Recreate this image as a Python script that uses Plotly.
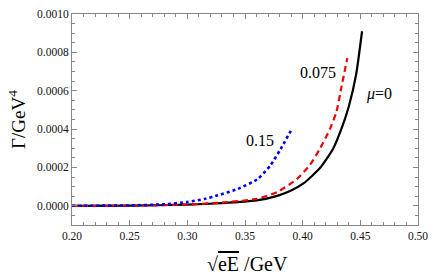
import plotly.graph_objects as go

# mu = 0 (black solid)
x_mu0 = [0.20, 0.25, 0.30, 0.33, 0.36, 0.378, 0.39, 0.401, 0.415, 0.4264, 0.435, 0.440, 0.4464, 0.4515]
y_mu0 = [0, 0.0000005, 0.000006, 0.000014, 0.000028, 0.000052, 0.00008, 0.000118, 0.000197, 0.000298, 0.000425, 0.000518, 0.000686, 0.000910]

# mu = 0.075 (red dashed)
x_mu075 = [0.20, 0.25, 0.30, 0.33, 0.36, 0.378, 0.395, 0.4064, 0.415, 0.4236, 0.4293, 0.4335, 0.4387]
y_mu075 = [0, 0.0000006, 0.000007, 0.000017, 0.000036, 0.000072, 0.000139, 0.000214, 0.000298, 0.0004, 0.000490, 0.000615, 0.00077]

# mu = 0.15 (blue dotted)
x_mu15 = [0.20, 0.25, 0.28, 0.30, 0.315, 0.3266, 0.3437, 0.3608, 0.3722, 0.3808, 0.3897]
y_mu15 = [0, 0.000002, 0.000008, 0.00002, 0.000036, 0.000055, 0.000088, 0.000139, 0.000212, 0.000295, 0.000391]

x_ticks = [0.20, 0.25, 0.30, 0.35, 0.40, 0.45, 0.50]
y_ticks = [0.0, 0.0002, 0.0004, 0.0006, 0.0008, 0.0010]

serif = "Liberation Serif, Times New Roman, serif"

fig = go.Figure()
fig.add_trace(go.Scatter(x=x_mu0, y=y_mu0, mode="lines", line=dict(color="black", width=2.2, shape="spline", smoothing=0.5)))
fig.add_trace(go.Scatter(x=x_mu075, y=y_mu075, mode="lines", line=dict(color="#ee0000", width=2.2, dash="6px,4px", shape="spline", smoothing=0.5)))
fig.add_trace(go.Scatter(x=x_mu15, y=y_mu15, mode="lines", line=dict(color="#0000ee", width=2.6, dash="3px,3px", shape="spline", smoothing=0.5)))

axis_common = dict(showgrid=False, zeroline=False, showline=True, linecolor="#888888", linewidth=1,
                   mirror="allticks", ticks="inside", ticklen=5, tickcolor="#888888",
                   tickfont=dict(family=serif, size=11.5, color="#111111"))

fig.update_xaxes(range=[0.20, 0.50], tickvals=x_ticks, ticktext=[f"{v:.2f}" for v in x_ticks],
                 minor=dict(ticks="inside", ticklen=3, dtick=0.01, tick0=0.2, tickcolor="#888888"),
                 **axis_common)
fig.update_yaxes(range=[-0.0001, 0.0010], tickvals=y_ticks, ticktext=[f"{v:.4f}" for v in y_ticks],
                 minor=dict(ticks="inside", ticklen=3, dtick=0.00005, tick0=0, tickcolor="#888888"),
                 title=dict(text="Γ/GeV<sup>4</sup>", font=dict(family=serif, size=19, color="black"), standoff=6),
                 **axis_common)

# x-axis title placed as a paper annotation
fig.add_annotation(xref="paper", yref="paper", x=0.507, y=-0.184, xanchor="center", yanchor="middle",
                   text="√<span style='text-decoration:overline'>eE</span> /GeV", showarrow=False,
                   font=dict(family=serif, size=20, color="black"))

ann_font = dict(family=serif, size=16, color="black")
fig.add_annotation(x=0.4658, y=0.000585, text="<i>μ</i>=0", showarrow=False, font=ann_font)
fig.add_annotation(x=0.413, y=0.000697, text="0.075", showarrow=False, font=ann_font)
fig.add_annotation(x=0.3634, y=0.000342, text="0.15", showarrow=False, font=ann_font)

fig.update_layout(width=436, height=280, margin=dict(l=72, r=13, t=8, b=55),
                  plot_bgcolor="white", paper_bgcolor="white", showlegend=False)

fig.write_html("out.html", config={"displayModeBar": False},
               post_script="document.body.style.margin='0';document.body.style.overflow='hidden';")
